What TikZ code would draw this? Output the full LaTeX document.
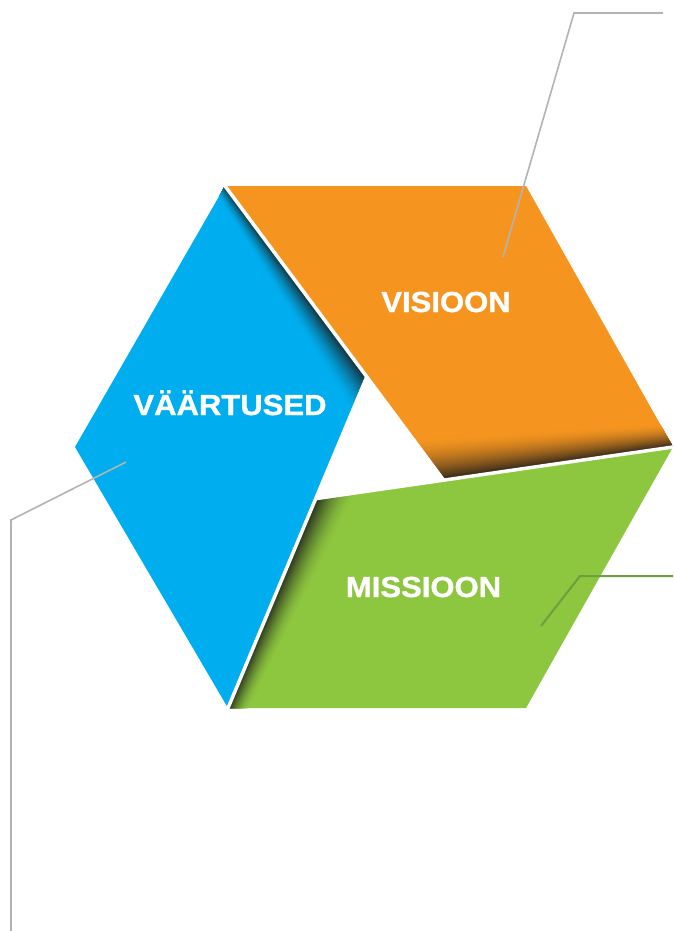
\documentclass[tikz,border=0pt]{standalone}
\usepackage{fontspec}
\setmainfont{Liberation Sans}
\newfontface\labelfont{Liberation Sans Bold}[FakeBold=1]
\usepackage{graphicx}
\usetikzlibrary{calc}
\definecolor{vorange}{HTML}{F5951F}
\definecolor{vblue}{HTML}{00AEEF}
\definecolor{vgreen}{HTML}{8DC63F}
\definecolor{vleader}{HTML}{B3B3B3}
\definecolor{vgleader}{HTML}{6E9E3F}
\definecolor{vdark}{HTML}{1A1A1A}
% #1 inner end, #2 outer end, #3 panel colour, #4 width at inner end, #5 taper ratio
\newcommand\panelshadow[5]{%
  \foreach \i in {30,29,...,1}{%
    \pgfmathsetmacro\ww{#4*\i/30}%
    \pgfmathsetmacro\wq{#5*#4*\i/30}%
    \pgfmathsetmacro\dk{88*(1-(\i-1)/30)^1.6}%
    \fill[vdark!\dk!#3] ($(#1)!10pt!-90:(#2)$) -- ($(#2)!10pt!90:(#1)$) -- ($(#2)!\wq pt!-90:(#1)$) -- ($(#1)!\ww pt!90:(#2)$) -- cycle;
  }}
\begin{document}
\begin{tikzpicture}[x=1pt,y=-1pt,
  paneltext/.style={text=white, font=\fontsize{29}{30}\labelfont, inner sep=0pt, anchor=base},
  leader/.style={draw=vleader, line width=1.6pt},
  gleader/.style={draw=vgleader, line width=2pt},
  gap/.style={draw=white, line width=3.5pt}]
\useasboundingbox (0,0) rectangle (673,931);
\fill[white] (0,0) rectangle (673,931);
% hexagon corners
\coordinate (V1) at (225,186);
\coordinate (V2) at (526,186);
\coordinate (V3) at (673,447);
\coordinate (V4) at (526,708);
\coordinate (V5) at (228,708);
\coordinate (V6) at (75,447);
% guide points of the three cuts
\coordinate (Bm) at (442,478);
\coordinate (Cm) at (320,498);
\coordinate (Am) at (365,381);
\coordinate (B) at (intersection of V1--Bm and V3--Cm);
\coordinate (C) at (intersection of V3--Cm and V5--Am);
\coordinate (A) at (intersection of V5--Am and V1--Bm);
% extended edge ends for shadows
\coordinate (Ae) at ($(A)!-20pt!(V1)$);
\coordinate (V1e) at ($(V1)!-20pt!(A)$);
\coordinate (Be) at ($(B)!-20pt!(V3)$);
\coordinate (V3e) at ($(V3)!-20pt!(B)$);
\coordinate (Ce) at ($(C)!-20pt!(V5)$);
\coordinate (V5e) at ($(V5)!-20pt!(C)$);
% orange panel
\fill[vorange] (V1) -- (V2) -- (V3) -- (B) -- cycle;
\begin{scope}
  \clip (V1) -- (V2) -- (V3) -- (B) -- cycle;
  \panelshadow{Be}{V3e}{vorange}{44}{0.5}
\end{scope}
% blue panel
\fill[vblue] (V5) -- (V6) -- (V1) -- (A) -- cycle;
\begin{scope}
  \clip (V5) -- (V6) -- (V1) -- (A) -- cycle;
  \panelshadow{Ae}{V1e}{vblue}{32}{0.3}
\end{scope}
% green panel
\fill[vgreen] (V3) -- (V4) -- (V5) -- (C) -- cycle;
\begin{scope}
  \clip (V3) -- (V4) -- (V5) -- (C) -- cycle;
  \panelshadow{Ce}{V5e}{vgreen}{34}{0.5}
\end{scope}
% white gaps
\draw[gap, shorten <=-4pt] (V1) -- (B);
\draw[gap, shorten <=-4pt] (V3) -- (C);
\draw[gap, shorten <=-4pt] (V5) -- (A);
% leader lines
\coordinate (t0) at (503,257);
\coordinate (t1) at (574,13);
\coordinate (t2) at (663,13);
\draw[leader] (t0) -- (t1) -- (t2);
\coordinate (l0) at (126,462);
\coordinate (l1) at (11,520);
\coordinate (l2) at (11,931);
\draw[leader] (l0) -- (l1) -- (l2);
\coordinate (g0) at (541,626);
\coordinate (g1) at (580,576);
\coordinate (g2) at (673,576);
\draw[gleader] (g0) -- (g1) -- (g2);
% labels
\node[paneltext] (visioon) at (446,312) {\scalebox{1.07}[1]{VISIOON}};
\node[paneltext] (vaartused) at (230,415) {\scalebox{1.07}[1]{VÄÄRTUSED}};
\node[paneltext] (missioon) at (423.5,597) {\scalebox{1.07}[1]{MISSIOON}};
\end{tikzpicture}
\end{document}
